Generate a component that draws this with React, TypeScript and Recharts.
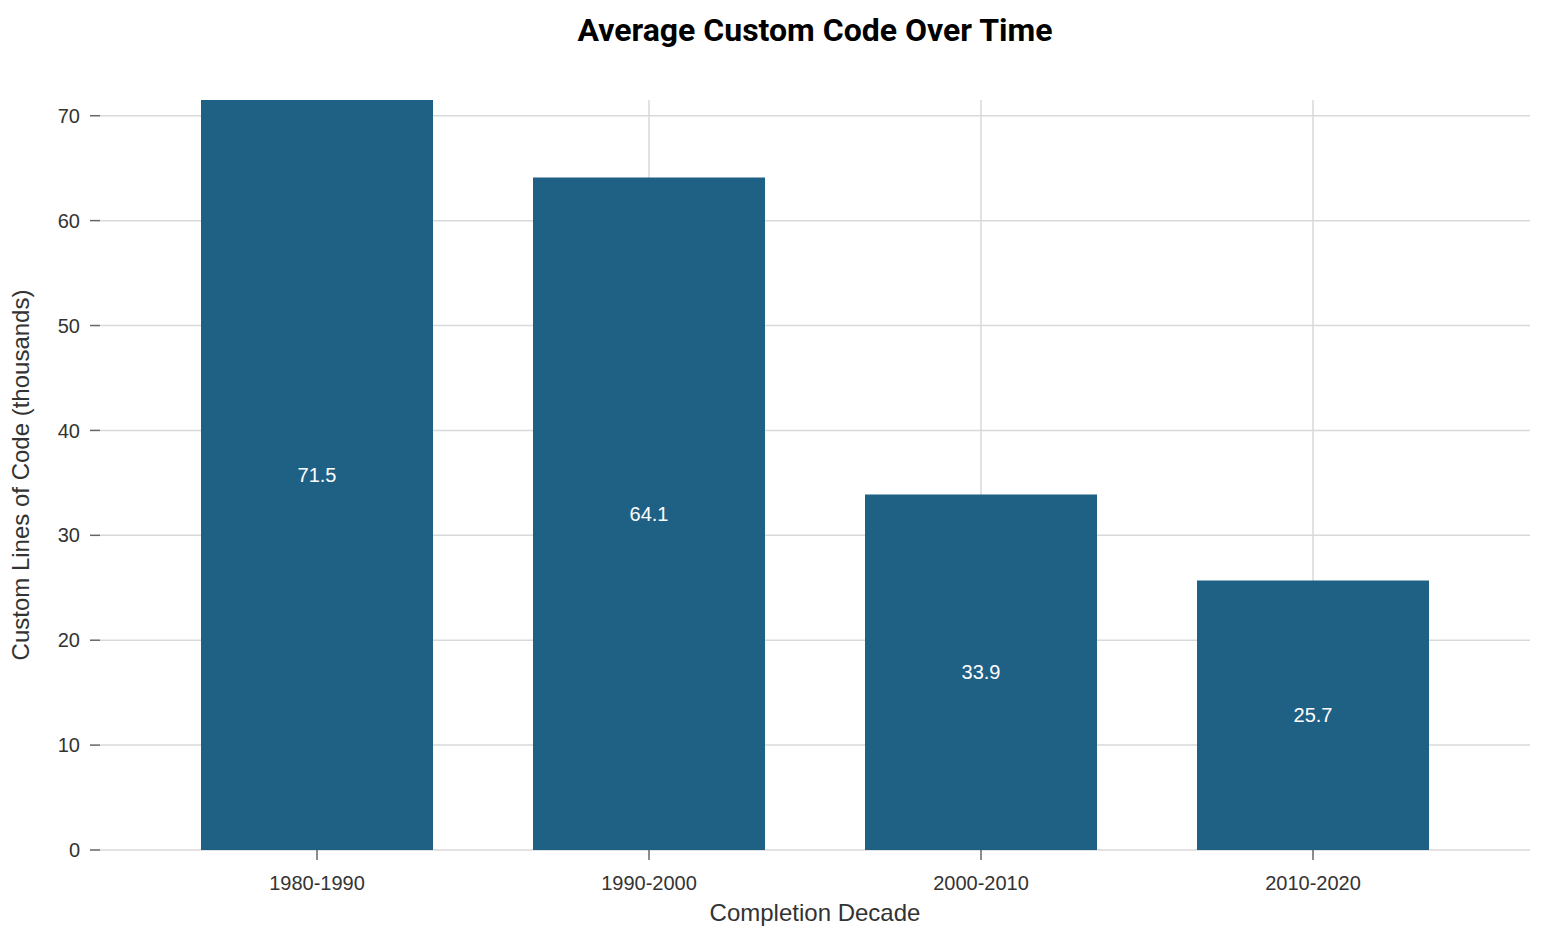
import { Bar, BarChart, CartesianGrid, LabelList, XAxis, YAxis } from "recharts";

const decades = ["1980-1990", "1990-2000", "2000-2010", "2010-2020"];
const avgCustomCode = [71.5, 64.1, 33.9, 25.7];
const yTicks = [0, 10, 20, 30, 40, 50, 60, 70];

const data = decades.map((decade, i) => ({ decade, value: avgCustomCode[i] }));

const FONT = "'Liberation Sans', Arial, Helvetica, sans-serif";
const BAR_COLOR = "#1f6185";

export default function App() {
  return (
    <div style={{ position: "absolute", left: 0, top: 0, width: 1550, height: 937, background: "#fff" }}>
      <div
        style={{
          position: "absolute",
          left: 100,
          width: 1430,
          top: 11,
          textAlign: "center",
          fontFamily: "Roboto, sans-serif",
          fontWeight: 700,
          fontSize: 32,
          color: "#000",
        }}
      >
        Average Custom Code Over Time
      </div>
      <BarChart
        width={1550}
        height={937}
        data={data}
        margin={{ top: 100, right: 20, bottom: 0, left: 0 }}
        barSize={232}
      >
        {/* grid only at ticks, no border box */}
        <CartesianGrid stroke="#d9d9d9" strokeWidth={1.5} syncWithTicks />
        <XAxis
          dataKey="decade"
          padding={{ left: 51, right: 51 }}
          axisLine={false}
          tickSize={10}
          tickMargin={16}
          tickLine={{ stroke: "#666", strokeWidth: 1.5 }}
          tick={{ fill: "#333", fontSize: 20, fontFamily: FONT }}
          label={{ value: "Completion Decade", position: "insideBottom", offset: 16, fill: "#333", fontSize: 24, fontFamily: FONT }}
          height={87}
        />
        <YAxis
          width={100}
          domain={[0, 71.5]}
          ticks={yTicks}
          axisLine={false}
          tickSize={10}
          tickMargin={10}
          tickLine={{ stroke: "#666", strokeWidth: 1.5 }}
          tick={{ fill: "#333", fontSize: 20, fontFamily: FONT }}
          label={{ value: "Custom Lines of Code (thousands)", angle: -90, position: "center", dx: -30, fill: "#333", fontSize: 24, fontFamily: FONT }}
        />
        <Bar dataKey="value" fill={BAR_COLOR} isAnimationActive={false}>
          <LabelList dataKey="value" position="center" fill="#fff" fontSize={20} fontFamily={FONT} />
        </Bar>
      </BarChart>
    </div>
  );
}
